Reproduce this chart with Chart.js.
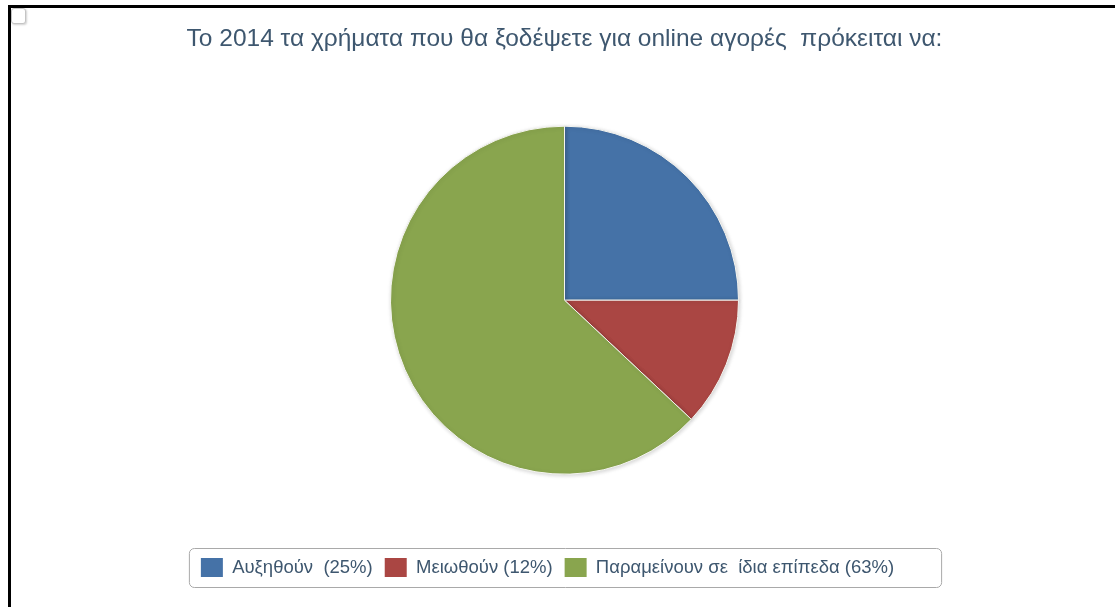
<!DOCTYPE html>
<html>
<head>
<meta charset="utf-8">
<script src="https://cdn.jsdelivr.net/npm/chart.js@4.4.1/dist/chart.umd.min.js"></script>
<style>
  html, body { margin: 0; padding: 0; background: #ffffff; }
  body { width: 1115px; height: 607px; position: relative; overflow: hidden; }
  #frame {
    position: absolute; left: 8px; top: 5px; width: 1200px; height: 700px;
    border-top: 3px solid #000; border-left: 3px solid #000;
  }
  #tick {
    position: absolute; left: 11px; top: 8px; width: 13px; height: 14px;
    border: 1px solid #c4c4c4; border-radius: 3px; background: #fff;
    box-shadow: 1px 1px 2px rgba(0,0,0,0.18);
  }
  #wrap { position: absolute; left: 0; top: 0; width: 1115px; height: 607px; }
</style>
</head>
<body>
<div id="frame"></div>
<div id="tick"></div>
<div id="wrap"><canvas id="chart" width="1115" height="607"></canvas></div>
<script>
const chartTitle = 'Το 2014 τα χρήματα που θα ξοδέψετε για online αγορές  πρόκειται να:';
const categories = ['Αυξηθούν ', 'Μειωθούν', 'Παραμείνουν σε  ίδια επίπεδα'];
const shares = [25, 12, 63];
const sliceColors = ['#4572A7', '#AA4643', '#89A54E'];

// Legend row sits a little left of centre inside its frame
const legendShift = {
  id: 'legendShift',
  afterLayout(chart) {
    if (chart.legend) chart.legend.left -= 34;
  }
};

// Rounded frame around the legend row
const legendFrame = {
  id: 'legendFrame',
  afterDraw(chart) {
    const boxes = chart.legend && chart.legend.legendHitBoxes;
    if (!boxes || !boxes.length) return;
    let l = Infinity, r = -Infinity, t = Infinity, b = -Infinity;
    boxes.forEach(h => {
      l = Math.min(l, h.left); r = Math.max(r, h.left + h.width);
      t = Math.min(t, h.top); b = Math.max(b, h.top + h.height);
    });
    const x = l - 12, y = t - 10, w = (r - l) + 12 + 47, h = (b - t) + 20;
    const ctx = chart.ctx;
    ctx.save();
    ctx.beginPath();
    ctx.roundRect(x + 0.5, y + 0.5, w, h, 5);
    ctx.strokeStyle = '#a9a9a9';
    ctx.lineWidth = 1;
    ctx.stroke();
    ctx.restore();
  }
};

// Soft drop shadow under the pie
const pieShadow = {
  id: 'pieShadow',
  beforeDatasetDraw(chart) {
    const ctx = chart.ctx;
    ctx.save();
    ctx.shadowColor = 'rgba(0,0,0,0.18)';
    ctx.shadowBlur = 4;
    ctx.shadowOffsetX = 1;
    ctx.shadowOffsetY = 1;
  },
  afterDatasetDraw(chart) {
    chart.ctx.restore();
  }
};

new Chart(document.getElementById('chart'), {
  type: 'pie',
  data: {
    labels: categories.map((c, i) => `${c} (${shares[i]}%)`),
    datasets: [{
      data: shares,
      backgroundColor: sliceColors,
      borderColor: '#f4f4ef',
      borderWidth: 1,
      radius: 174,
      hoverOffset: 0
    }]
  },
  options: {
    responsive: false,
    animation: false,
    layout: { padding: { left: 14, top: 0, bottom: 20, right: 0 } },
    plugins: {
      title: {
        display: true,
        text: chartTitle,
        color: '#3E576F',
        font: { family: '"Liberation Sans", Arial, sans-serif', size: 24.5, weight: 'normal' },
        padding: { top: 25, bottom: 0 }
      },
      legend: {
        position: 'bottom',
        labels: {
          color: '#3E576F',
          font: { family: '"Liberation Sans", Arial, sans-serif', size: 18.5 },
          boxWidth: 22,
          boxHeight: 19,
          padding: 12,
          useBorderRadius: true,
          borderRadius: 2,
          generateLabels(chart) {
            return chart.data.labels.map((text, i) => ({
              text,
              fillStyle: sliceColors[i],
              strokeStyle: sliceColors[i],
              lineWidth: 0,
              fontColor: '#3E576F',
              index: i
            }));
          }
        }
      },
      tooltip: { enabled: false }
    }
  },
  plugins: [legendShift, legendFrame, pieShadow]
});
</script>
</body>
</html>
